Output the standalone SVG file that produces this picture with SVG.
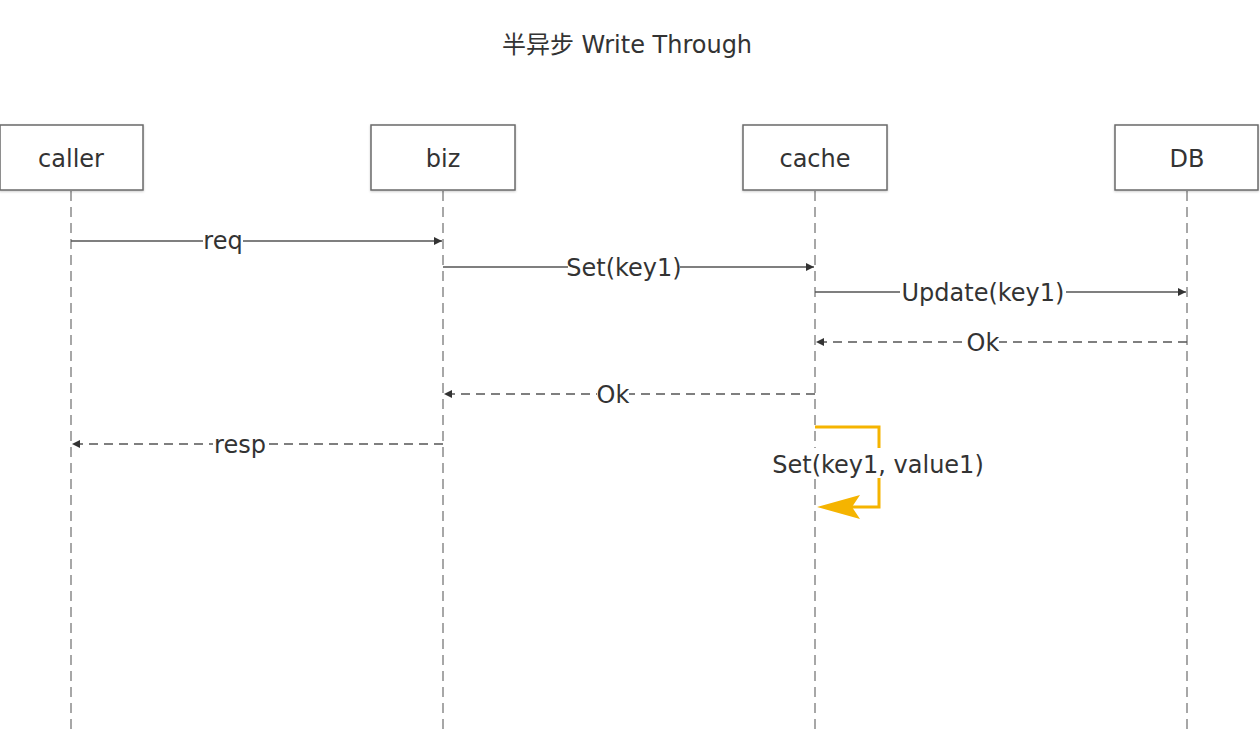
<svg xmlns="http://www.w3.org/2000/svg" width="1260" height="730" viewBox="0 0 1260 730">
<defs>
<style>
.t{font-family:"DejaVu Sans","Noto Sans CJK SC",sans-serif;fill:#333;text-anchor:middle;font-size:24px}
.box{fill:#fff;stroke:#6a6a6a;stroke-width:1.5}
.life{stroke:#8a8a8a;stroke-width:1.5;stroke-dasharray:10 6;fill:none}
.msg{stroke:#555;stroke-width:1.5;fill:none}
.ret{stroke:#555;stroke-width:1.5;fill:none;stroke-dasharray:9 6}
.bg{fill:#fff}
</style>
<marker id="ah" viewBox="0 0 10 10" refX="10" refY="5" markerWidth="8" markerHeight="8" markerUnits="userSpaceOnUse" orient="auto">
<path d="M0,0 L10,5 L0,10 z" fill="#333"/>
</marker>
<filter id="sh" x="-10%" y="-10%" width="120%" height="130%">
<feDropShadow dx="0" dy="1" stdDeviation="1" flood-color="#000" flood-opacity="0.2"/>
</filter>
</defs>
<rect width="1260" height="730" fill="#fff"/>
<text class="t" x="627" y="53">半异步 Write Through</text>

<g id="lifelines">
<line class="life" x1="71" y1="191" x2="71" y2="730"/>
<line class="life" x1="443" y1="191" x2="443" y2="730"/>
<line class="life" x1="815" y1="191" x2="815" y2="730"/>
<line class="life" x1="1187" y1="191" x2="1187" y2="730"/>
</g>

<g id="caller"><rect class="box" filter="url(#sh)" x="0" y="125" width="143" height="65"/><text class="t" x="71" y="167">caller</text></g>
<g id="biz"><rect class="box" filter="url(#sh)" x="371" y="125" width="144" height="65"/><text class="t" x="443" y="167">biz</text></g>
<g id="cache"><rect class="box" filter="url(#sh)" x="743" y="125" width="144" height="65"/><text class="t" x="815" y="167">cache</text></g>
<g id="DB"><rect class="box" filter="url(#sh)" x="1115" y="125" width="143" height="65"/><text class="t" x="1187" y="167">DB</text></g>

<g id="connectors">
<line class="msg" x1="71" y1="241" x2="442" y2="241" marker-end="url(#ah)"/>
<rect class="bg" x="203" y="231" width="40" height="22"/>
<text class="t" x="223" y="249">req</text>

<line class="msg" x1="443" y1="267" x2="814" y2="267" marker-end="url(#ah)"/>
<rect class="bg" x="568" y="255" width="112" height="24"/>
<text class="t" x="624" y="276">Set(key1)</text>

<line class="msg" x1="815" y1="292" x2="1186" y2="292" marker-end="url(#ah)"/>
<rect class="bg" x="900" y="280" width="166" height="24"/>
<text class="t" x="983" y="301">Update(key1)</text>

<line class="ret" x1="1187" y1="342" x2="816" y2="342" marker-end="url(#ah)"/>
<rect class="bg" x="967" y="332" width="32" height="22"/>
<text class="t" x="983" y="351">Ok</text>

<line class="ret" x1="815" y1="394" x2="444" y2="394" marker-end="url(#ah)"/>
<rect class="bg" x="597" y="384" width="32" height="22"/>
<text class="t" x="613" y="403">Ok</text>

<line class="ret" x1="443" y1="444" x2="72" y2="444" marker-end="url(#ah)"/>
<rect class="bg" x="213" y="434" width="54" height="22"/>
<text class="t" x="240" y="453">resp</text>

<path d="M815,427 H879 V507 H852" fill="none" stroke="#F5B400" stroke-width="3"/>
<path d="M817,507 L860,495 L852,507 L860,519 z" fill="#F5B400"/>
<rect class="bg" x="775" y="448" width="208" height="30"/>
<text class="t" x="878" y="473">Set(key1, value1)</text>
</g>
</svg>
